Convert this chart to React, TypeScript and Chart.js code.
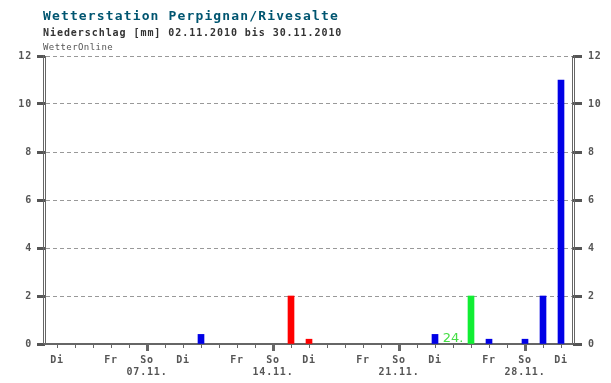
import React, { useEffect, useRef } from 'react';
import { Chart, registerables } from 'chart.js';

Chart.register(...registerables);

// Days of November 2010 shown on the axis (2 .. 30)
const tickDays = [2, 3, 4, 5, 6, 7, 8, 9, 10, 11, 12, 13, 14, 15, 16, 17, 18, 19, 20, 21, 22, 23, 24, 25, 26, 27, 28, 29, 30];
const dayLabels = ['Di', '', '', 'Fr', '', 'So', '', 'Di', '', '', 'Fr', '', 'So', '', 'Di', '', '', 'Fr', '', 'So', '', 'Di', '', '', 'Fr', '', 'So', '', 'Di'];
const dateLabels = ['', '', '', '', '', '07.11.', '', '', '', '', '', '', '14.11.', '', '', '', '', '', '', '21.11.', '', '', '', '', '', '', '28.11.', '', ''];

// Precipitation [mm]
const blueDays = [10, 23, 26, 28, 29, 30];
const blueValues = [0.4, 0.4, 0.2, 0.2, 2.0, 11.0];
const redDays = [15, 16];
const redValues = [2.0, 0.2];
const greenDays = [25];
const greenValues = [2.0];

const yTicks = [0, 2, 4, 6, 8, 10, 12];
const markerDay = 24;
const markerLabel = '24.';

const TITLE = 'Wetterstation Perpignan/Rivesalte';
const SUBTITLE = 'Niederschlag [mm] 02.11.2010 bis 30.11.2010';
const SOURCE = 'WetterOnline';

const toPoints = (xs: number[], ys: number[]) => xs.map((x, i) => ({ x, y: ys[i] }));

export default function App() {
  const ref = useRef<HTMLCanvasElement | null>(null);

  useEffect(() => {
    if (!ref.current) return;
    document.body.style.margin = '0';

    const decoPlugin = {
      id: 'deco',
      beforeDraw(chart: any) {
        chart.ctx.letterSpacing = '0.8px';
      },
      afterDraw(chart: any) {
        const ctx = chart.ctx;
        const area = chart.chartArea;
        const xs = chart.scales.x;
        ctx.save();
        // outer lines of the double frame
        ctx.strokeStyle = '#666';
        ctx.lineWidth = 1;
        ctx.beginPath();
        ctx.moveTo(area.left - 1.5, area.top - 1);
        ctx.lineTo(area.left - 1.5, area.bottom);
        ctx.moveTo(area.right + 2.5, area.top - 1);
        ctx.lineTo(area.right + 2.5, area.bottom);
        ctx.stroke();
        // longer tick marks on Sundays
        ctx.fillStyle = '#666';
        tickDays.forEach((d, i) => {
          if (dateLabels[i]) {
            const px = Math.round(xs.getPixelForValue(d));
            ctx.fillRect(px - 1, area.bottom + 4, 3, 3);
          }
        });
        // marker label
        ctx.letterSpacing = '0px';
        ctx.fillStyle = '#44dd44';
        ctx.font = '13px "DejaVu Sans"';
        ctx.textAlign = 'center';
        ctx.textBaseline = 'alphabetic';
        ctx.fillText(markerLabel, xs.getPixelForValue(markerDay), area.bottom - 2);
        // titles
        ctx.textAlign = 'left';
        ctx.fillStyle = '#005570';
        ctx.font = 'bold 13px "DejaVu Sans Mono"';
        ctx.letterSpacing = '1.14px';
        ctx.fillText(TITLE, 43, 19.5);
        ctx.fillStyle = '#333';
        ctx.font = 'bold 10px "DejaVu Sans Mono"';
        ctx.letterSpacing = '0.94px';
        ctx.fillText(SUBTITLE, 43, 36);
        ctx.fillStyle = '#555';
        ctx.font = '9px "DejaVu Sans Mono"';
        ctx.letterSpacing = '0.42px';
        ctx.fillText(SOURCE, 43, 50);
        ctx.restore();
        ctx.letterSpacing = '0px';
      },
    };

    const tickFont = { family: '"DejaVu Sans Mono"', size: 10, weight: 'bold' as const, lineHeight: 1.2 };

    const chart = new Chart(ref.current, {
      type: 'bar',
      data: {
        datasets: [
          { label: 'blau', data: toPoints(blueDays, blueValues), backgroundColor: '#0000e6', yAxisID: 'y' },
          { label: 'rot', data: toPoints(redDays, redValues), backgroundColor: '#ff0000', yAxisID: 'y' },
          { label: 'gruen', data: toPoints(greenDays, greenValues), backgroundColor: '#11ee33', yAxisID: 'y' },
        ],
      },
      options: {
        responsive: false,
        animation: false,
        devicePixelRatio: 1,
        layout: { padding: { top: 56, left: 0, right: 0, bottom: 0 } },
        plugins: { legend: { display: false }, tooltip: { enabled: false }, title: { display: false } },
        datasets: { bar: { barThickness: 6, grouped: false, borderWidth: 0 } },
        scales: {
          x: {
            type: 'linear',
            position: 'bottom',
            offset: false,
            min: 1.3333,
            max: 30.6111,
            afterBuildTicks: (scale: any) => {
              scale.ticks = tickDays.map((d) => ({ value: d }));
            },
            afterFit: (scale: any) => {
              scale.height = 39;
            },
            ticks: {
              autoSkip: false,
              maxRotation: 0,
              minRotation: 0,
              padding: 6,
              color: '#555',
              font: tickFont,
              callback: (value: any) => {
                const i = tickDays.indexOf(Number(value));
                if (i < 0) return '';
                return dateLabels[i] ? [dayLabels[i], dateLabels[i]] : dayLabels[i];
              },
            },
            grid: {
              offset: false,
              drawOnChartArea: false,
              drawTicks: true,
              tickLength: 4,
              tickColor: '#666',
              tickWidth: (ctx: any) => {
                const i = tickDays.indexOf(ctx.tick ? ctx.tick.value : -1);
                return i >= 0 && dateLabels[i] ? 3 : 1;
              },
            },
            border: { display: true, color: '#666', width: 2 },
          },
          y: {
            type: 'linear',
            position: 'left',
            min: 0,
            max: 12,
            afterBuildTicks: (scale: any) => {
              scale.ticks = yTicks.map((v) => ({ value: v }));
            },
            afterFit: (scale: any) => {
              scale.width = 45;
            },
            ticks: { padding: 5, color: '#555', font: tickFont },
            grid: {
              color: '#999',
              lineWidth: 1,
              drawTicks: true,
              tickLength: 8,
              tickWidth: 3,
              tickColor: '#555',
            },
            border: { display: true, color: '#666', width: 1, dash: [4, 3] },
          },
          y2: {
            type: 'linear',
            position: 'right',
            min: 0,
            max: 12,
            afterBuildTicks: (scale: any) => {
              scale.ticks = yTicks.map((v) => ({ value: v }));
            },
            afterFit: (scale: any) => {
              scale.width = 39;
            },
            ticks: { padding: 6, color: '#555', font: tickFont },
            grid: {
              drawOnChartArea: false,
              drawTicks: true,
              tickLength: 10,
              tickWidth: 3,
              tickColor: '#555',
            },
            border: { display: true, color: '#666', width: 1 },
          },
        },
      },
      plugins: [decoPlugin],
    } as any);

    return () => chart.destroy();
  }, []);

  return (
    <div style={{ position: 'absolute', left: 0, top: 0, width: 611, height: 383, background: '#fff' }}>
      <canvas ref={ref} width={611} height={383} />
    </div>
  );
}
